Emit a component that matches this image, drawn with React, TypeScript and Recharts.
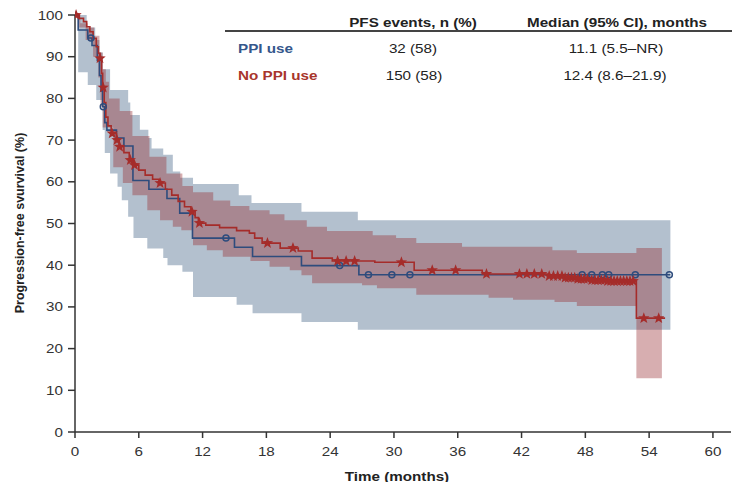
import React from 'react';
import { ComposedChart, Line, Area, Scatter, XAxis, YAxis, Label } from 'recharts';

type Step = [number, number];

const timeTicks = [0, 6, 12, 18, 24, 30, 36, 42, 48, 54, 60];
const survivalTicks = [0, 10, 20, 30, 40, 50, 60, 70, 80, 90, 100];

// PPI use: KM steps [month, %]
const ppiSurvival: Step[] = [
  [0, 100], [0.3, 96.4], [1.2, 94.5], [1.6, 92.7], [2.1, 89.1], [2.3, 85.5], [2.45, 81.8],
  [2.6, 78], [2.8, 74.2], [3.0, 72.4], [3.9, 70.5], [4.6, 68.6], [5.45, 60.3], [6.95, 58.2],
  [8.65, 56], [9.85, 52.5], [11.05, 46.5], [15.0, 44.3], [16.7, 42.1], [21.3, 39.9],
  [26.7, 37.7], [56, 37.7],
];
const ppiCensored: Step[] = [
  [1.5, 94.5], [2.66, 78], [14.2, 46.5], [24.9, 39.9], [27.6, 37.7], [29.8, 37.7], [31.5, 37.7],
  [47.7, 37.7], [48.6, 37.7], [49.6, 37.7], [50.2, 37.7], [52.7, 37.7], [55.9, 37.7],
];
const ppiUpper: Step[] = [
  [0, 100], [1.1, 97], [1.9, 94], [2.3, 91], [2.6, 87], [3.3, 82], [5.0, 79], [5.2, 76],
  [6.1, 72.5], [6.9, 70.5], [7.2, 68], [8.3, 66.5], [9.2, 62.5], [9.9, 61], [11.1, 59.5],
  [15.4, 56.8], [16.6, 54.9], [21.3, 52.8], [26.6, 50.8], [56, 50.8],
];
const ppiLower: Step[] = [
  [0, 100], [0.3, 86.3], [1.2, 83.2], [2.0, 79.6], [2.6, 72.4], [2.8, 66.9], [3.3, 62], [4.0, 58.8],
  [4.4, 55.6], [5.0, 51.6], [5.5, 46.5], [6.8, 44], [8.3, 41.7], [8.7, 40], [10.1, 38.4],
  [11.1, 32.4], [15.2, 30.5], [16.7, 28.5], [21.3, 26.4], [26.6, 24.5], [56, 24.5],
];

// No PPI use
const noPpiSurvival: Step[] = [
  [0, 100], [0.4, 99.2], [0.8, 98.4], [1.1, 97.2], [1.4, 96], [1.7, 94.4], [2.0, 92.4], [2.2, 90.8],
  [2.35, 89.6], [2.5, 86], [2.6, 82.6], [2.75, 79], [2.9, 75.5], [3.1, 73.4], [3.4, 71.6],
  [3.9, 70], [4.15, 68.4], [4.6, 67], [5.1, 65.2], [5.5, 64], [6.0, 62.8], [6.6, 61.6],
  [7.3, 60.6], [7.9, 59.7], [8.5, 58.2], [9.1, 56.8], [9.7, 55.3], [10.3, 54], [10.9, 52.8],
  [11.3, 51.4], [11.6, 50.1], [12.3, 49.6], [13.6, 49], [15.2, 48.3], [16.4, 47.7], [16.9, 46.5],
  [17.6, 45.3], [19.3, 44.1], [21.0, 43.4], [22.3, 41.7], [24.2, 41], [28.2, 40.7], [31.9, 38.8],
  [38.3, 37.9], [44.5, 37.4], [46, 37], [47.2, 36.7], [48.5, 36.4], [50, 36.2], [52.8, 27.3],
  [55.5, 27.3],
];
const noPpiCensored: Step[] = [
  [0.1, 100], [2.35, 89.6], [2.65, 82.6], [3.5, 71.6], [3.95, 70], [4.2, 68.4], [5.2, 65.2],
  [5.6, 64], [8.0, 59.7], [11.0, 52.8], [11.7, 50.1], [18.1, 45.3], [20.5, 44.1], [24.7, 41],
  [25.5, 41], [26.3, 41], [30.7, 40.7], [33.6, 38.8], [35.8, 38.8], [38.7, 37.9],
  [41.8, 37.9], [42.5, 37.9], [43.2, 37.9], [43.9, 37.9], [44.6, 37.4], [45.0, 37.4],
  [45.4, 37.4], [45.8, 37.4], [46.1, 37], [46.4, 37], [46.7, 37], [47.0, 37], [47.3, 36.7],
  [47.6, 36.7], [47.9, 36.7], [48.2, 36.7], [48.6, 36.4], [48.9, 36.4], [49.2, 36.4],
  [49.5, 36.4], [49.8, 36.4], [50.1, 36.2], [50.4, 36.2], [50.7, 36.2], [51.0, 36.2],
  [51.3, 36.2], [51.6, 36.2], [51.9, 36.2], [52.2, 36.2], [52.5, 36.2], [53.5, 27.3], [54.9, 27.3],
];
const noPpiUpper: Step[] = [
  [0, 100], [0.5, 98], [1.2, 97], [1.8, 95], [2.3, 91], [2.6, 87], [2.9, 84], [3.2, 80], [4.2, 77],
  [5.4, 71], [7.0, 66], [8.6, 62], [10.1, 59], [11.1, 57.5], [13.0, 55.5], [14.6, 54.2],
  [16.4, 53.2], [18.3, 52.2], [19.7, 50.8], [21.8, 49.2], [23.7, 48.2], [28.0, 47.2], [30.2, 46.5],
  [32.1, 45.3], [36.4, 44.4], [44.9, 43.6], [47.2, 42.9], [52.8, 44.1], [55.2, 44.1],
];
const noPpiLower: Step[] = [
  [0, 100], [0.4, 97], [1.0, 94], [1.7, 90], [2.2, 85], [2.4, 78], [2.6, 73], [3.6, 63.5],
  [4.5, 59.7], [5.4, 56.8], [6.8, 53.2], [8.0, 50.8], [9.2, 49.2], [10.0, 48.4], [11.1, 44.8],
  [12.4, 43.6], [13.9, 42], [16.5, 41], [18.3, 39.6], [20.2, 38.8], [21.3, 37.6], [22.3, 35.7],
  [27.0, 35.2], [28.4, 34.5], [32.1, 32.9], [38.9, 32.2], [41.2, 31.7], [45.1, 31.2], [47.2, 30.2],
  [52.8, 12.9], [55.2, 12.9],
];

const BLUE = '#2e4c7d';
const RED = '#a52c2a';
const FONT = '"Liberation Sans", Arial, sans-serif';
const STRETCH = 1.17; // source text is drawn wide

const toRows = (steps: Step[]) => steps.map(([t, s]) => ({ t, s }));

// value of a step function at time t
const stepAt = (steps: Step[], t: number) => {
  let v = steps[0][1];
  for (const [ti, vi] of steps) if (ti <= t) v = vi;
  return v;
};

const bandRows = (lower: Step[], upper: Step[]) => {
  const times = Array.from(new Set([...lower, ...upper].map((p) => p[0]))).sort((a, b) => a - b);
  return times.map((t) => ({ t, band: [stepAt(lower, t), stepAt(upper, t)] }));
};

const Star = ({ cx, cy }: any) => {
  const pts: string[] = [];
  for (let i = 0; i < 10; i++) {
    const r = i % 2 === 0 ? 6 : 2.5;
    const a = (Math.PI / 5) * i - Math.PI / 2;
    pts.push(`${cx + r * Math.cos(a)},${cy + r * Math.sin(a)}`);
  }
  return <polygon points={pts.join(' ')} fill={RED} />;
};

const Ring = ({ cx, cy }: any) => (
  <circle cx={cx} cy={cy} r={3} fill="none" stroke={BLUE} strokeWidth={1.5} />
);

const XTick = ({ x, y, payload }: any) => (
  <text transform={`translate(${x},${y + 11}) scale(${STRETCH},1)`} textAnchor="middle"
    dominantBaseline="central" style={{ fontSize: 13, fill: '#333', fontFamily: FONT }}>
    {payload.value}
  </text>
);

const YTick = ({ x, y, payload }: any) => (
  <text transform={`translate(${x - 1},${y}) scale(${STRETCH},1)`} textAnchor="end"
    dominantBaseline="central" style={{ fontSize: 13, fill: '#333', fontFamily: FONT }}>
    {payload.value}
  </text>
);

const cell = (x: number, y: number, text: string, style: React.CSSProperties = {}, center = true) => (
  <div
    style={{
      position: 'absolute',
      left: x,
      top: y,
      transform: center
        ? `translate(-50%, -50%) scaleX(${STRETCH})`
        : `translateY(-50%) scaleX(${STRETCH})`,
      transformOrigin: center ? 'center' : 'left center',
      whiteSpace: 'nowrap',
      lineHeight: 1,
      fontSize: 13,
      color: '#222',
      fontFamily: FONT,
      ...style,
    }}
  >
    {text}
  </div>
);

export default function App() {
  return (
    <div style={{ position: 'absolute', left: 0, top: 0, width: 732, height: 482, background: '#fff' }}>
      <ComposedChart width={732} height={482} margin={{ top: 15, right: 1, bottom: 20, left: 0 }}>
        <XAxis
          type="number"
          dataKey="t"
          domain={[0, 61.7]}
          ticks={timeTicks}
          height={30}
          tickSize={6}
          tickMargin={2}
          allowDataOverflow
          tick={<XTick />}
          axisLine={{ stroke: '#333', strokeWidth: 1.5 }}
          tickLine={{ stroke: '#333', strokeWidth: 1.5 }}
        >
          <Label
            content={() => (
              <text transform={`translate(397,476) scale(${STRETCH},1)`} textAnchor="middle"
                dominantBaseline="central"
                style={{ fontSize: 13, fontWeight: 700, fontFamily: FONT, fill: '#222' }}>
                Time (months)
              </text>
            )}
          />
        </XAxis>
        <YAxis
          type="number"
          domain={[0, 100]}
          ticks={survivalTicks}
          width={75}
          tickSize={7}
          tickMargin={4}
          tick={<YTick />}
          axisLine={{ stroke: '#333', strokeWidth: 1.5 }}
          tickLine={{ stroke: '#333', strokeWidth: 1.5 }}
        >
          <Label
            content={() => (
              <text x={20} y={223} transform="rotate(-90, 20, 223)" textAnchor="middle"
                dominantBaseline="central"
                style={{ fontSize: 12.5, fontWeight: 700, fontFamily: FONT, fill: '#222' }}>
                Progression-free svurvival (%)
              </text>
            )}
          />
        </YAxis>
        <Area
          data={bandRows(ppiLower, ppiUpper)}
          dataKey="band"
          type="stepAfter"
          fill="#b3c0ce"
          fillOpacity={1}
          stroke="none"
          isAnimationActive={false}
        />
        <Area
          data={bandRows(noPpiLower, noPpiUpper)}
          dataKey="band"
          type="stepAfter"
          fill="#962a2f"
          fillOpacity={0.38}
          stroke="none"
          isAnimationActive={false}
        />
        <Line data={toRows(ppiSurvival)} dataKey="s" type="stepAfter" stroke={BLUE}
          strokeWidth={1.6} dot={false} isAnimationActive={false} />
        <Line data={toRows(noPpiSurvival)} dataKey="s" type="stepAfter" stroke={RED}
          strokeWidth={1.6} dot={false} isAnimationActive={false} />
        <Scatter data={toRows(ppiCensored)} dataKey="s" shape={<Ring />} isAnimationActive={false} />
        <Scatter data={toRows(noPpiCensored)} dataKey="s" shape={<Star />} isAnimationActive={false} />
      </ComposedChart>

      <div style={{ position: 'absolute', left: 225, top: 30, width: 507, height: 1.5, background: '#444' }} />
      {cell(413, 22, 'PFS events, n (%)', { fontWeight: 700 })}
      {cell(617, 22, 'Median (95% CI), months', { fontWeight: 700 })}
      {cell(238, 48, 'PPI use', { fontWeight: 700, color: '#35578c' }, false)}
      {cell(413, 48, '32 (58)')}
      {cell(616, 48, '11.1 (5.5–NR)')}
      {cell(238, 75, 'No PPI use', { fontWeight: 700, color: '#a8352c' }, false)}
      {cell(414, 75, '150 (58)')}
      {cell(615, 75, '12.4 (8.6–21.9)')}
    </div>
  );
}
